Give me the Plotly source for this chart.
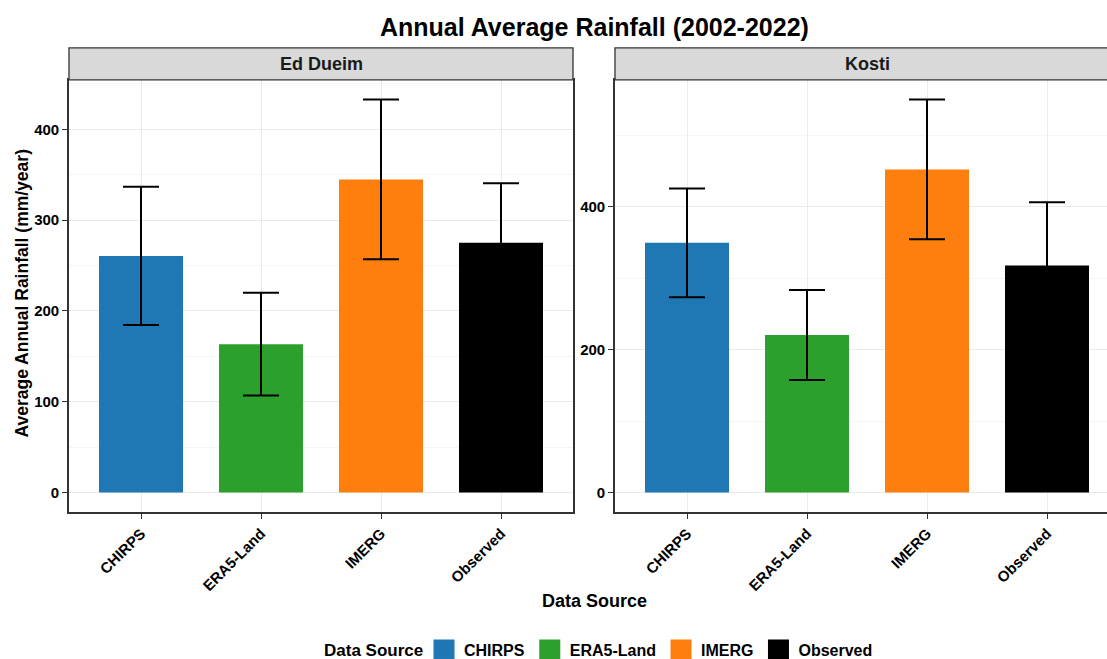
import plotly.graph_objects as go

# ---- data ----
sources = ["CHIRPS", "ERA5-Land", "IMERG", "Observed"]
colors = ["#1f77b4", "#2ca02c", "#ff7f0e", "#000000"]
stations = ["Ed Dueim", "Kosti"]
ed_dueim_mean = [260.6, 163.4, 344.8, 275.2]
ed_dueim_sd = [76.1, 56.6, 88.0, 65.5]
kosti_mean = [349.4, 220.4, 452.0, 317.8]
kosti_sd = [76.1, 63.0, 97.8, 88.3]

W, H = 1107, 659
FONT = "Liberation Sans, Arial, sans-serif"

def px_x(p):
    return p / W

def px_y(p):
    return (H - p) / H

fig = go.Figure()

panels = [
    ("x", "y", ed_dueim_mean, ed_dueim_sd),
    ("x2", "y2", kosti_mean, kosti_sd),
]
for xa, ya, means, sds in panels:
    for i, src in enumerate(sources):
        fig.add_trace(go.Bar(
            x=[src], y=[means[i]], xaxis=xa, yaxis=ya,
            name=src, legendgroup=src, showlegend=False,
            marker=dict(color=colors[i], line=dict(width=0)),
            width=0.7,
            error_y=dict(type="data", array=[sds[i]], arrayminus=[sds[i]],
                         color="black", thickness=2, width=18, visible=True),
        ))
# legend entries (large square keys)
for i, src in enumerate(sources):
    fig.add_trace(go.Scatter(
        x=[None], y=[None], mode="markers", name=src, legendgroup=src,
        marker=dict(symbol="square", size=22, color=colors[i],
                    line=dict(width=5, color=colors[i])),
        showlegend=True, xaxis="x", yaxis="y",
    ))

def yrange(means, sds):
    top = max(m + s for m, s in zip(means, sds))
    return [-0.05 * top, 1.05 * top]

tickfont = dict(family=FONT, size=15, color="black", weight="bold")
ydom = [px_y(513), px_y(80)]

common_x = dict(type="category", categoryorder="array", categoryarray=sources,
                showgrid=True, gridcolor="#ebebeb", gridwidth=1.1,
                ticks="outside", ticklen=5, tickcolor="#333333", tickwidth=1.1,
                tickangle=-45, tickfont=tickfont, showline=True,
                linecolor="#333333", linewidth=1.6, mirror=True, zeroline=False)
common_y = dict(showgrid=True, gridcolor="#ebebeb", gridwidth=1.1,
                ticks="outside", ticklen=5, tickcolor="#333333", tickwidth=1.1,
                tickfont=tickfont, showline=True, linecolor="#333333",
                linewidth=1.6, zeroline=False, domain=ydom)

fig.update_layout(
    width=W, height=H + 8, autosize=False,
    margin=dict(l=0, r=0, t=0, b=0),
    paper_bgcolor="white", plot_bgcolor="white",
    barmode="overlay",
    font=dict(family=FONT, color="black"),
    xaxis=dict(domain=[px_x(69), px_x(573)], anchor="y", range=[-0.6, 3.6], **common_x),
    yaxis=dict(anchor="x", range=yrange(ed_dueim_mean, ed_dueim_sd), dtick=100,
               minor=dict(dtick=50, showgrid=True, gridcolor="#f5f5f5", gridwidth=1),
               mirror=True, **common_y),
    xaxis2=dict(domain=[px_x(615), 1.0], anchor="y2", range=[-0.6, 3.5], **common_x),
    yaxis2=dict(anchor="x2", range=yrange(kosti_mean, kosti_sd), dtick=200,
                minor=dict(dtick=100, showgrid=True, gridcolor="#f5f5f5", gridwidth=1),
                mirror=False, **common_y),
    showlegend=True,
    legend=dict(orientation="h", xanchor="left", x=px_x(424), yanchor="middle", y=px_y(651),
                font=dict(family=FONT, size=16, color="black", weight="bold"),
                itemsizing="trace", bgcolor="rgba(0,0,0,0)", valign="middle"),
)

# strips
shapes = []
for x0, x1 in [(69, 573), (615, 1125)]:
    shapes.append(dict(type="rect", xref="paper", yref="paper",
                       x0=px_x(x0), x1=px_x(x1), y0=px_y(80), y1=px_y(48),
                       fillcolor="#d9d9d9", line=dict(color="#333333", width=1.3), layer="above"))
fig.update_layout(shapes=shapes)

annotations = [
    dict(text="Ed Dueim", x=px_x(321), y=px_y(64), xref="paper", yref="paper",
         showarrow=False, xanchor="center", yanchor="middle",
         font=dict(family=FONT, size=18, color="#1a1a1a", weight="bold")),
    dict(text="Kosti", x=px_x(867), y=px_y(64), xref="paper", yref="paper",
         showarrow=False, xanchor="center", yanchor="middle",
         font=dict(family=FONT, size=18, color="#1a1a1a", weight="bold")),
    dict(text="Annual Average Rainfall (2002-2022)", x=px_x(594), y=px_y(27),
         xref="paper", yref="paper", showarrow=False, xanchor="center", yanchor="middle",
         font=dict(family=FONT, size=25, color="black", weight="bold")),
    dict(text="Average Annual Rainfall (mm/year)", x=px_x(22), y=px_y(294),
         xref="paper", yref="paper", showarrow=False, xanchor="center", yanchor="middle",
         textangle=-90, font=dict(family=FONT, size=17.5, color="black", weight="bold")),
    dict(text="Data Source", x=px_x(594), y=px_y(602), xref="paper", yref="paper",
         showarrow=False, xanchor="center", yanchor="middle",
         font=dict(family=FONT, size=18, color="black", weight="bold")),
    dict(text="Data Source", x=px_x(322), y=px_y(651), xref="paper", yref="paper",
         showarrow=False, xanchor="left", yanchor="middle",
         font=dict(family=FONT, size=17, color="black", weight="bold")),
]
fig.update_layout(annotations=annotations)

fig.write_html("out.html", config={"displayModeBar": False},
               post_script="document.body.style.margin='0';document.body.style.padding='0';")
